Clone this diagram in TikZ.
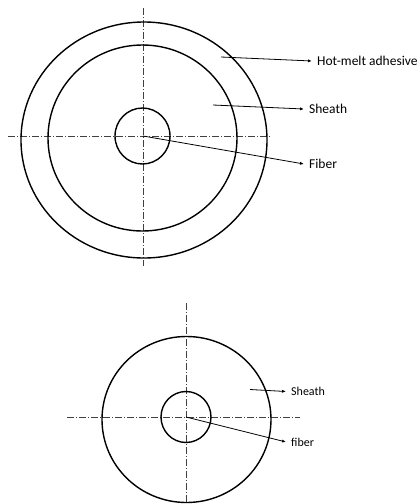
\documentclass[tikz,border=0pt]{standalone}
\usepackage{fontspec}
\setmainfont{Carlito}
\usetikzlibrary{arrows.meta,shapes.geometric}
\begin{document}
\begin{tikzpicture}[x=1pt,y=-1pt,
  ring/.style={draw, ellipse, inner sep=0pt, line width=1.4pt},
  axis/.style={line width=0.5pt, draw=black!75, dash pattern=on 7pt off 2pt on 1pt off 2pt},
  pointer/.style={line width=0.8pt, -{Latex[length=4pt,width=3.2pt]}},
  lbl/.style={anchor=west, inner xsep=5pt, inner ysep=2pt, font=\fontsize{13.5}{15}\selectfont},
  lblsmall/.style={anchor=west, inner xsep=5pt, inner ysep=2pt, font=\fontsize{12}{14}\selectfont}]
\useasboundingbox (0,0) rectangle (420,504);
% ---- top figure ----
\coordinate (h1a) at (8,136); \coordinate (h1b) at (270,136);
\coordinate (v1a) at (143,8); \coordinate (v1b) at (143,266);
\draw[axis] (h1a) -- (h1b);
\draw[axis] (v1a) -- (v1b);
\node[ring, minimum width=246pt, minimum height=236pt] (outer) at (144,140) {};
\node[ring, minimum width=189pt, minimum height=186pt] (sheath) at (142.5,138) {};
\node[ring, minimum width=55pt, minimum height=56pt] (core) at (142.5,136) {};
\node[lbl] (lhot) at (312,61) {Hot-melt adhesive};
\node[lbl] (lsheath) at (304,109) {Sheath};
\node[lbl] (lfiber) at (304,164) {Fiber};
\coordinate (shot) at (221,57);
\coordinate (ssheath) at (213,105);
\coordinate (c1) at (143,136);
\draw[pointer] (shot) -- (lhot.west);
\draw[pointer] (ssheath) -- (lsheath.west);
\draw[pointer] (c1) -- (lfiber.west);
% ---- bottom figure ----
\coordinate (h2a) at (67,417); \coordinate (h2b) at (300,417);
\coordinate (v2a) at (186,303); \coordinate (v2b) at (186,504);
\draw[axis] (h2a) -- (h2b);
\draw[axis] (v2a) -- (v2b);
\node[ring, minimum width=169pt, minimum height=166pt] (outer2) at (186.5,419.5) {};
\node[ring, minimum width=50pt, minimum height=51pt] (core2) at (186,417) {};
\node[lblsmall] (lsheath2) at (286,391.5) {Sheath};
\node[lblsmall] (lfiber2) at (286,442) {fiber};
\coordinate (ssheath2) at (250,389.5);
\coordinate (c2) at (186,417);
\draw[pointer] (ssheath2) -- (lsheath2.west);
\draw[pointer] (c2) -- (lfiber2.west);
\end{tikzpicture}
\end{document}
